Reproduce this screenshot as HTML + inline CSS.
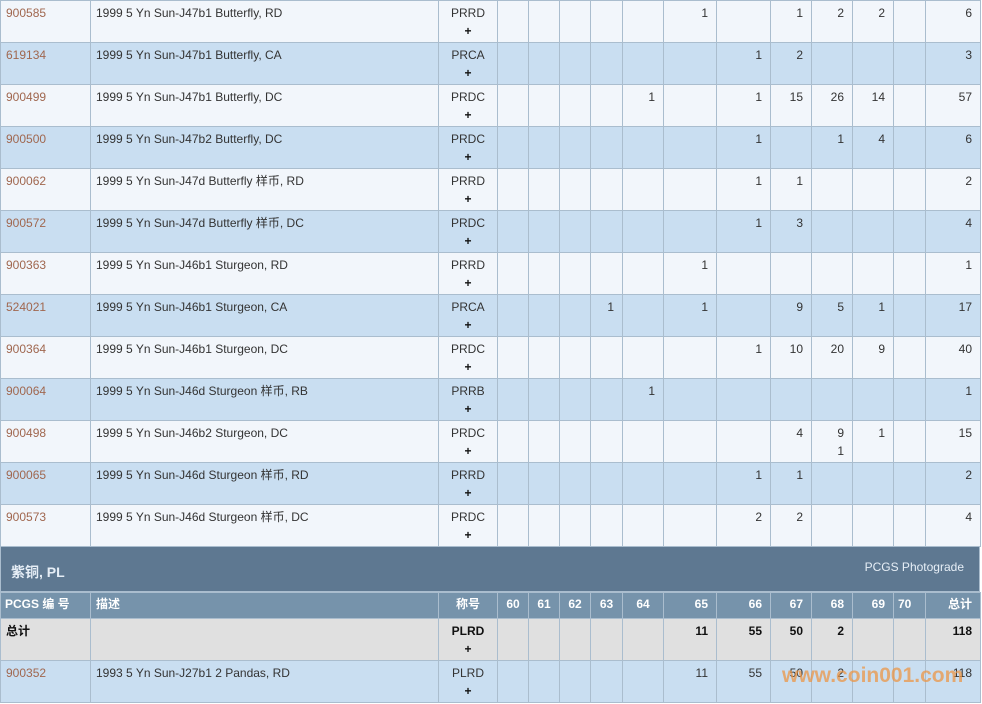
<!DOCTYPE html>
<html><head><meta charset="utf-8"><style>
body{margin:0;width:982px;height:704px;overflow:hidden;background:#fff;font-family:"Liberation Sans","Noto Sans CJK SC",sans-serif;font-size:12px;color:#333;position:relative}
table{border-collapse:collapse;table-layout:fixed;position:absolute;left:0;width:981px}
td{border:1px solid #aabdce;padding:3px 8px 0 8px;vertical-align:top;line-height:18px;text-align:right;overflow:hidden;white-space:nowrap}
tr.r{height:42px}
tr.l td{background:#f2f6fb}
tr.b td{background:#c9def1}
td.c{text-align:left;color:#a0674f;padding-left:5px}
td.d{text-align:left;padding-left:5px}
td.g{text-align:center;padding:3px 0 0}
td.g b{display:block;color:#111}
.hd{position:absolute;left:0;top:546px;width:980px;height:46px;background:#5e7891;border:1px solid #aabdce;box-sizing:border-box}
.hd .t{position:absolute;left:10px;top:15px;color:#e6eef6;font-weight:bold;font-size:14px}
.hd .p{position:absolute;right:15px;top:13px;color:#e6eef6;font-size:12px}
tr.h{height:26px}
tr.h td{background:#7693ab;color:#fff;font-weight:bold;padding-top:3px;padding-bottom:0;line-height:16px;vertical-align:top}
tr.t td{background:#e0e0e0;font-weight:bold;color:#111}
.wm{position:absolute;left:782px;top:664px;font-size:21px;font-weight:bold;color:rgba(235,150,70,0.75)}
</style></head><body>
<table style="top:0">
<colgroup><col style="width:90px"><col style="width:348px"><col style="width:59px"><col style="width:31px"><col style="width:31px"><col style="width:31px"><col style="width:32px"><col style="width:41px"><col style="width:53px"><col style="width:54px"><col style="width:41px"><col style="width:41px"><col style="width:41px"><col style="width:32px"><col style="width:55px"></colgroup>
<tr class="r l"><td class="c">900585</td><td class="d">1999 5 Yn Sun-J47b1 Butterfly, RD</td><td class="g">PRRD<b>+</b></td><td></td><td></td><td></td><td></td><td></td><td>1</td><td></td><td>1</td><td>2</td><td>2</td><td></td><td>6</td></tr>
<tr class="r b"><td class="c">619134</td><td class="d">1999 5 Yn Sun-J47b1 Butterfly, CA</td><td class="g">PRCA<b>+</b></td><td></td><td></td><td></td><td></td><td></td><td></td><td>1</td><td>2</td><td></td><td></td><td></td><td>3</td></tr>
<tr class="r l"><td class="c">900499</td><td class="d">1999 5 Yn Sun-J47b1 Butterfly, DC</td><td class="g">PRDC<b>+</b></td><td></td><td></td><td></td><td></td><td>1</td><td></td><td>1</td><td>15</td><td>26</td><td>14</td><td></td><td>57</td></tr>
<tr class="r b"><td class="c">900500</td><td class="d">1999 5 Yn Sun-J47b2 Butterfly, DC</td><td class="g">PRDC<b>+</b></td><td></td><td></td><td></td><td></td><td></td><td></td><td>1</td><td></td><td>1</td><td>4</td><td></td><td>6</td></tr>
<tr class="r l"><td class="c">900062</td><td class="d">1999 5 Yn Sun-J47d Butterfly 样币, RD</td><td class="g">PRRD<b>+</b></td><td></td><td></td><td></td><td></td><td></td><td></td><td>1</td><td>1</td><td></td><td></td><td></td><td>2</td></tr>
<tr class="r b"><td class="c">900572</td><td class="d">1999 5 Yn Sun-J47d Butterfly 样币, DC</td><td class="g">PRDC<b>+</b></td><td></td><td></td><td></td><td></td><td></td><td></td><td>1</td><td>3</td><td></td><td></td><td></td><td>4</td></tr>
<tr class="r l"><td class="c">900363</td><td class="d">1999 5 Yn Sun-J46b1 Sturgeon, RD</td><td class="g">PRRD<b>+</b></td><td></td><td></td><td></td><td></td><td></td><td>1</td><td></td><td></td><td></td><td></td><td></td><td>1</td></tr>
<tr class="r b"><td class="c">524021</td><td class="d">1999 5 Yn Sun-J46b1 Sturgeon, CA</td><td class="g">PRCA<b>+</b></td><td></td><td></td><td></td><td>1</td><td></td><td>1</td><td></td><td>9</td><td>5</td><td>1</td><td></td><td>17</td></tr>
<tr class="r l"><td class="c">900364</td><td class="d">1999 5 Yn Sun-J46b1 Sturgeon, DC</td><td class="g">PRDC<b>+</b></td><td></td><td></td><td></td><td></td><td></td><td></td><td>1</td><td>10</td><td>20</td><td>9</td><td></td><td>40</td></tr>
<tr class="r b"><td class="c">900064</td><td class="d">1999 5 Yn Sun-J46d Sturgeon 样币, RB</td><td class="g">PRRB<b>+</b></td><td></td><td></td><td></td><td></td><td>1</td><td></td><td></td><td></td><td></td><td></td><td></td><td>1</td></tr>
<tr class="r l"><td class="c">900498</td><td class="d">1999 5 Yn Sun-J46b2 Sturgeon, DC</td><td class="g">PRDC<b>+</b></td><td></td><td></td><td></td><td></td><td></td><td></td><td></td><td>4</td><td>9<br>1</td><td>1</td><td></td><td>15</td></tr>
<tr class="r b"><td class="c">900065</td><td class="d">1999 5 Yn Sun-J46d Sturgeon 样币, RD</td><td class="g">PRRD<b>+</b></td><td></td><td></td><td></td><td></td><td></td><td></td><td>1</td><td>1</td><td></td><td></td><td></td><td>2</td></tr>
<tr class="r l"><td class="c">900573</td><td class="d">1999 5 Yn Sun-J46d Sturgeon 样币, DC</td><td class="g">PRDC<b>+</b></td><td></td><td></td><td></td><td></td><td></td><td></td><td>2</td><td>2</td><td></td><td></td><td></td><td>4</td></tr>
</table>
<div class="hd"><span class="t">紫铜, PL</span><span class="p">PCGS Photograde</span></div>
<table style="top:592px">
<colgroup><col style="width:90px"><col style="width:348px"><col style="width:59px"><col style="width:31px"><col style="width:31px"><col style="width:31px"><col style="width:32px"><col style="width:41px"><col style="width:53px"><col style="width:54px"><col style="width:41px"><col style="width:41px"><col style="width:41px"><col style="width:32px"><col style="width:55px"></colgroup>
<tr class="h"><td class="d" style="color:#fff;padding-left:4px">PCGS 编 号</td><td class="d">描述</td><td class="g">称号</td><td style="text-align:center;padding:3px 0 0">60</td><td style="text-align:center;padding:3px 0 0">61</td><td style="text-align:center;padding:3px 0 0">62</td><td style="text-align:center;padding:3px 0 0">63</td><td style="text-align:center;padding:3px 0 0">64</td><td>65</td><td>66</td><td>67</td><td>68</td><td>69</td><td style="text-align:left;padding-left:4px">70</td><td>总计</td></tr>
<tr class="r t"><td class="d" style="color:#111">总计</td><td></td><td class="g">PLRD<b>+</b></td><td></td><td></td><td></td><td></td><td></td><td>11</td><td>55</td><td>50</td><td>2</td><td></td><td></td><td>118</td></tr>
<tr class="r b"><td class="c">900352</td><td class="d">1993 5 Yn Sun-J27b1 2 Pandas, RD</td><td class="g">PLRD<b>+</b></td><td></td><td></td><td></td><td></td><td></td><td>11</td><td>55</td><td>50</td><td>2</td><td></td><td></td><td>118</td></tr>
</table>
<div class="wm">www.coin001.com</div>
</body></html>
